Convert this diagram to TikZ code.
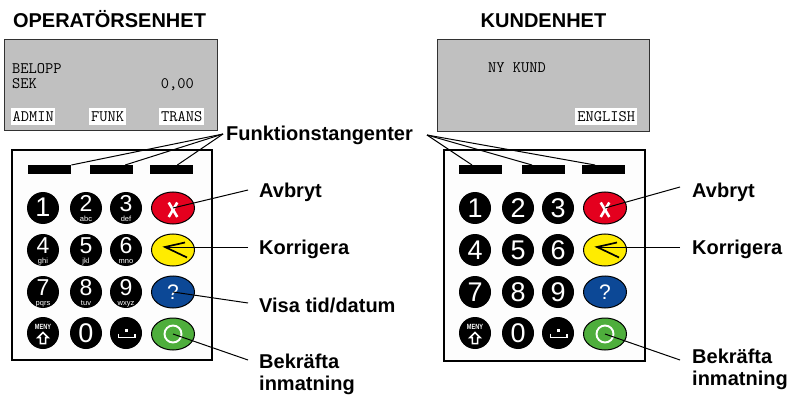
\documentclass[tikz,border=0pt]{standalone}
\usepackage{fontspec}
\setmainfont{Liberation Sans}
\newfontfamily\narrowsans[FakeStretch=0.75]{Liberation Sans}
\usetikzlibrary{calc,shapes.geometric}
\definecolor{scrgray}{RGB}{192,192,192}
\definecolor{scrline}{RGB}{50,50,50}
\definecolor{padfill}{RGB}{253,253,253}
\definecolor{kred}{RGB}{228,0,30}
\definecolor{kyellow}{RGB}{255,236,0}
\definecolor{kblue}{RGB}{12,72,150}
\definecolor{kgreen}{RGB}{78,174,60}
\newcommand\keydigit[2]{\makebox[0pt]{\fontsize{23}{23}\selectfont #1}\makebox[0pt]{\raisebox{-9.4pt}{\fontsize{7.5}{8}\selectfont #2}}}
\tikzset{
  lbl/.style={font=\fontsize{20}{22}\selectfont\bfseries, anchor=base west, inner sep=0},
  ttl/.style={font=\fontsize{20}{22}\selectfont\bfseries, anchor=base, inner sep=0},
  screen/.style={draw=scrline, fill=scrgray, line width=1.3, anchor=north west, inner sep=0},
  scrtxt/.style={font=\fontsize{16}{18}\selectfont\ttfamily, inner sep=0, anchor=base west},
  softkey/.style={fill=white, font=\fontsize{16}{18}\selectfont\ttfamily, inner sep=0, minimum height=17, anchor=north west},
  pad/.style={draw=black, fill=padfill, line width=2, anchor=north west, inner sep=0},
  fbar/.style={fill=black, minimum width=43, minimum height=9, inner sep=0, anchor=north west},
  numkey/.style={circle, fill=black, minimum size=32, inner sep=0},
  ovkey/.style={ellipse, draw=black, line width=1, minimum width=43, minimum height=32, inner sep=0},
  digbig/.style={text=white, font=\fontsize{27}{27}\selectfont, inner sep=0},
  digpair/.style={text=white, inner sep=0, anchor=base},
  menytxt/.style={text=white, font=\narrowsans\bfseries\fontsize{7.5}{8}\selectfont, inner sep=0},
  qglyph/.style={text=white, font=\fontsize{21}{21}\selectfont, inner sep=0},
  conn/.style={draw=black, line width=1},
  wline/.style={draw=white, line width=1.8},
}
\begin{document}
\begin{tikzpicture}[x=1pt,y=-1pt]
\useasboundingbox (0,0) rectangle (791,395);

% ---------- titles ----------
\node[ttl] (tL) at (109.5,28) {OPERATÖRSENHET};
\node[ttl] (tR) at (543.5,28) {KUNDENHET};

% ---------- screens ----------
\node[screen, minimum width=213, minimum height=91] (scrL) at (4,39) {};
\node[scrtxt] (belopp) at (12,73.5) {BELOPP};
\node[scrtxt] (sek) at (12,88.5) {SEK};
\node[scrtxt, anchor=base east] (amount) at (194,88.5) {0,00};
\node[softkey, minimum width=44] (admin) at (11,108) {ADMIN};
\node[softkey, minimum width=37] (funkk) at (89,108) {FUNK};
\node[softkey, minimum width=45] (trans) at (159,108) {TRANS};

\node[screen, minimum width=212, minimum height=92] (scrR) at (437,39) {};
\node[scrtxt] (nykund) at (488,73) {NY KUND};
\node[softkey, minimum width=62] (english) at (575,108) {ENGLISH};

% ---------- keypads ----------
\node[pad, minimum width=200, minimum height=210] (Lpad) at (11,149) {};
\node[pad, minimum width=201, minimum height=211] (Rpad) at (443,149) {};

\node[fbar] (Lb1) at (28,165) {};
\node[fbar] (Lb2) at (90,165) {};
\node[fbar] (Lb3) at (150,165) {};
\node[fbar] (Rb1) at (459,165) {};
\node[fbar] (Rb2) at (522,165) {};
\node[fbar] (Rb3) at (582,165) {};

% left numeric keys
\node[numkey] (L1) at (43,208) {};
\node[digbig] at (43,207) {1};
\foreach \n/\x/\y/\t in {2/86/208/abc, 3/126/208/def, 4/43/250/ghi, 5/86/250/jkl, 6/126/250/mno, 7/43/292/pqrs, 8/86/292/tuv, 9/126/292/wxyz}{
  \node[numkey] (L\n) at (\x,\y) {};
  \node[digpair] at (\x,\y+3.8) {\keydigit{\n}{\t}};
}
\node[numkey] (L0) at (86,333) {};
\node[digbig] at (86,333) {0};

% right numeric keys
\foreach \n/\x/\y in {1/475/208, 2/518/208, 3/558/208, 4/475/250, 5/518/250, 6/558/250, 7/475/292, 8/518/292, 9/558/292, 0/518/333}{
  \node[numkey] (R\n) at (\x,\y) {};
  \node[digbig] at (\x,\y) {\n};
}

% MENY and space keys, both pads
\foreach \p/\xa/\xb in {L/43/126, R/475/558}{
  \node[numkey] (\p meny) at (\xa,333) {};
  \node[menytxt] at (\xa,326.5) {MENY};
  \draw[draw=white, line width=1.5, fill=black, line join=miter]
    (\xa,333) ++(0,-0.5) -- ++(5.2,5.2) -- ++(-2.6,0) -- ++(0,6) -- ++(-5.2,0) -- ++(0,-6) -- ++(-2.6,0) -- cycle;
  \node[numkey] (\p space) at (\xb,333) {};
  \fill[white] (\xb-0.8,329.2) rectangle (\xb+2.2,332.2);
  \draw[wline, line width=1.6] (\xb-7.5,333.5) -- (\xb-7.5,337.5) -- (\xb+9,337.5) -- (\xb+9,333.5);
}

% coloured function keys
\foreach \p/\x in {L/173, R/605}{
  \node[ovkey, fill=kred] (\p x) at (\x,208) {};
  \draw[wline, line width=2.6] (\x-4.3,202.5) -- (\x+4.3,217);
  \draw[wline, line width=2.6] (\x+4.3,202.5) -- (\x-4.3,217);
  \node[ovkey, fill=kyellow] (\p back) at (\x,250) {};
  \coordinate (\p tip) at (\x-8,247);
  \draw[black, line width=1.7, line join=miter] (\x+12,242.5) -- (\p tip) -- (\x+14,257.5);
  \node[ovkey, fill=kblue] (\p help) at (\x,292) {};
  \node[qglyph] at (\x,292.5) {?};
  \node[ovkey, fill=kgreen] (\p ok) at (\x,334) {};
  \draw[wline, line width=1.9] (\p ok.center) circle[radius=8.5];
}

% ---------- labels ----------
\node[lbl] (funk) at (226,141) {Funktionstangenter};
\node[lbl] (avL) at (259,198) {Avbryt};
\node[lbl] (korL) at (259,254) {Korrigera};
\node[lbl] (visL) at (259,312) {Visa tid/datum};
\node[lbl] (bekL) at (259,368) {Bekräfta};
\node[lbl] (inmL) at (259,390) {inmatning};

\node[lbl] (avR) at (692,197) {Avbryt};
\node[lbl] (korR) at (692,254) {Korrigera};
\node[lbl] (bekR) at (692,363) {Bekräfta};
\node[lbl] (inmR) at (692,385) {inmatning};

% ---------- connectors ----------
\coordinate (fL) at (223,134);
\coordinate (fR) at (427,135);
\draw[conn] (fL) -- ($(Lb1.north west)!1!(Lb1.north east)$);
\draw[conn] (fL) -- ($(Lb2.north west)!0.81!(Lb2.north east)$);
\draw[conn] (fL) -- ($(Lb3.north west)!0.63!(Lb3.north east)$);
\draw[conn] (fR) -- ($(Rb1.north west)!0.3!(Rb1.north east)$);
\draw[conn] (fR) -- ($(Rb2.north west)!0.23!(Rb2.north east)$);
\draw[conn] (fR) -- ($(Rb3.north west)!0.3!(Rb3.north east)$);

\coordinate (aL) at (248,190);
\coordinate (kL) at (248,247);
\coordinate (vL) at (248,303);
\coordinate (bL) at (248,360);
\draw[conn] (aL) -- (Lx.center);
\draw[conn] (kL) -- (Ltip);
\draw[conn] (vL) -- (Lhelp.center);
\draw[conn] (bL) -- (Lok.center);

\coordinate (aR) at (680,187);
\coordinate (kR) at (680,247);
\coordinate (bR) at (680,360);
\draw[conn] (aR) -- (Rx.center);
\draw[conn] (kR) -- (Rtip);
\draw[conn] (bR) -- (Rok.center);
\end{tikzpicture}
\end{document}
